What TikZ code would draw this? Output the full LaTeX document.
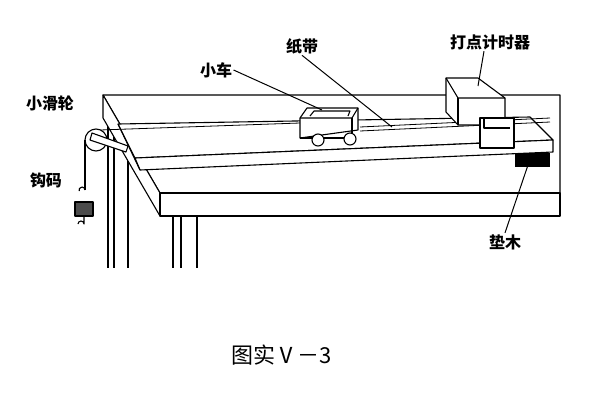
\documentclass[tikz,border=0pt]{standalone}
\usepackage{fontspec}
\newfontfamily\cjk{Noto Sans CJK SC}
\begin{document}
\begin{tikzpicture}[x=1pt,y=-1pt,line width=1.1pt,line join=round,
  lbl/.style={font=\cjk\fontsize{16}{16}\selectfont\bfseries,inner sep=1pt},
  lead/.style={line width=1pt}]
\useasboundingbox (0,0) rectangle (600,400);
% table legs
\foreach \x in {108,114,128} \draw (\x,125) -- (\x,268);
\foreach \x in {173,181,197} \draw (\x,217) -- (\x,268);
% table top
\draw[fill=white] (103,95) -- (560,95) -- (560,193) -- (160,193) -- cycle;
\draw[fill=white] (103,95) -- (160,193) -- (160,216) -- (103,118) -- cycle;
\draw[fill=white] (160,193) rectangle (560,216);
% board
\draw[fill=white] (118,124) -- (530,117) -- (553,140) -- (135,158) -- cycle;
\draw[fill=white] (135,158) -- (553,140) -- (553,152) -- (140,170) -- cycle;
\draw (118,124) -- (140,170);
% block under board
\fill (515,153) rectangle (550,167);
% string and tape
\draw[line width=0.8pt] (100,130) -- (300,123);
\draw[line width=0.8pt] (360,131) -- (550,122);
\draw[line width=0.8pt] (360,127) -- (550,118);
% pulley
\draw[fill=white] (96,140) circle (11);
\draw[fill=white] (92,133) -- (128,146) -- (126,152) -- (90,140) -- cycle;
\draw (85,140) -- (85,190);
\draw (85,190) arc (0:-200:3);
\draw[fill=black!70] (75,202) rectangle (93,216);
\draw (84,216) -- (84,224) arc (0:-180:3);
% car
\draw[fill=white] (300,118) -- (307,108) -- (358,108) -- (358,130) -- (300,138) -- cycle;
\draw (300,118) -- (352,118) -- (358,108);
\draw (352,118) -- (352,138) -- (300,138);
\draw (310,116) -- (314,111) -- (350,111) -- (348,116);
\draw[fill=white] (318,140) circle (6);
\draw[fill=white] (350,139) circle (6);
% timer
\draw[fill=white] (446,78) -- (478,78) -- (505,98) -- (505,125) -- (458,125) -- (446,112) -- cycle;
\draw (446,78) -- (458,98) -- (505,98);
\draw (458,98) -- (458,125);
\draw[fill=white,line width=1.6pt] (480,118) rectangle (514,148);
\draw[line width=1.6pt] (484,118) -- (484,128) -- (510,128);
% labels
\node[lbl] (car) at (216,70) {小车};
\node[lbl] (tape) at (302,46) {纸带};
\node[lbl] (timer) at (490,42) {打点计时器};
\node[lbl] (pulley) at (50,103) {小滑轮};
\node[lbl] (weight) at (46,180) {钩码};
\node[lbl] (pad) at (505,242) {垫木};
\node[font=\cjk\fontsize{22}{22}\selectfont,inner sep=1pt] (cap) at (282,355) {图实Ⅴ－3};
\coordinate (carP) at (322,110);
\coordinate (tapeP) at (392,127);
\coordinate (timerP) at (478,86);
\coordinate (padP) at (528,165);
\draw[lead] (car.east) -- (carP);
\draw[lead] (tape.south) -- (tapeP);
\draw[lead] (timer.south) ++(-6,0) -- (timerP);
\draw[lead] (pad.north) -- (padP);
\end{tikzpicture}
\end{document}
